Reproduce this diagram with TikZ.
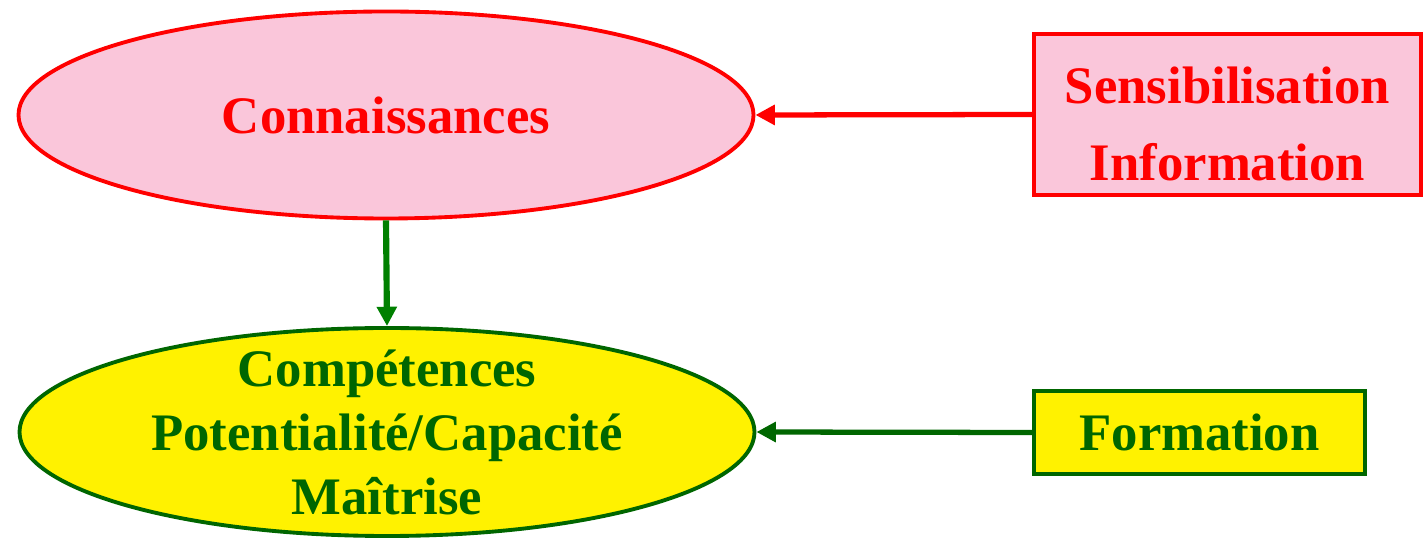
\documentclass[tikz,border=0pt]{standalone}
\usepackage{fontspec}
\setmainfont{Liberation Serif}
\usetikzlibrary{positioning,arrows}
\usetikzlibrary{arrows.meta}
\usetikzlibrary{shapes.geometric}
\definecolor{pinkfill}{RGB}{250,198,218}
\definecolor{darkgreen}{RGB}{0,102,0}
\definecolor{arrowgreen}{RGB}{0,128,0}

\begin{document}
\begin{tikzpicture}[
  bigtext/.style={font=\fontsize{30}{36.4}\selectfont\bfseries, align=center},
  oval/.style={ellipse, draw, line width=2.2pt, minimum width=14.7cm, minimum height=4.14cm, inner sep=0pt, bigtext},
  box/.style={rectangle, draw, line width=2.4pt, inner sep=0pt, bigtext},
  link/.style={line width=3pt, -{Triangle[length=11pt,width=11pt]}}
]
\useasboundingbox (0,0) rectangle (28.5,10.8);

\node[oval, fill=pinkfill, draw=red, text=red] (conn) at (7.72,8.5) {Connaissances};
\node[oval, fill=yellow, draw=darkgreen, text=darkgreen, inner ysep=-0.18cm] (comp) at (7.74,2.16) {Compétences\\Potentialité/Capacité\\Maîtrise};

\node[box, fill=pinkfill, draw=red, text=red, minimum width=7.74cm, minimum height=3.22cm,
  font=\fontsize{30}{43.8}\selectfont\bfseries] (sens) at (24.55,8.51) {\rule{0pt}{32pt}Sensibilisation\\Information};
\node[box, fill=yellow, draw=darkgreen, text=darkgreen, minimum width=6.62cm, minimum height=1.66cm] (form) at (23.99,2.15) {Formation};

\draw[link, red] (sens.west) -- (conn.east);
\draw[link, arrowgreen, line width=3.5pt] (conn.south) -- (comp.north);
\draw[link, darkgreen] (form.west) -- (comp.east);

\end{tikzpicture}
\end{document}
